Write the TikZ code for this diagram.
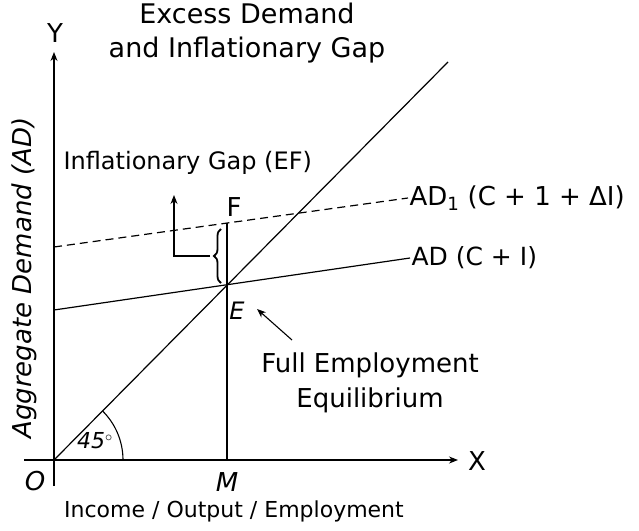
\documentclass[tikz,border=0pt]{standalone}
\usepackage{fontspec}
\setmainfont{DejaVu Sans}
\usetikzlibrary{positioning, calc, arrows.meta, decorations.pathreplacing}
\tikzset{every picture/.append style={thick}}
\tikzset{
    lbl/.style={inner sep=1pt, font=\fontsize{23}{27}\selectfont},
    letter/.style={inner sep=1pt, font=\fontsize{26}{30}\selectfont},
    curve/.style={line width=1.2pt},
    pointer/.style={-{Stealth[length=9pt, width=7pt]}},
}

\begin{document}
\begin{tikzpicture}[x=1pt, y=-1pt, line width=1.1pt]
    \useasboundingbox (0,0) rectangle (639,530);

    % =========================================================================
    % AXES
    % =========================================================================
    \coordinate (O) at (54,460);
    \coordinate (ybot) at (54,486);
    \coordinate (ytop) at (54,52);
    \coordinate (xleft) at (24,460);
    \coordinate (xright) at (458,460);

    \draw[pointer] (ybot) -- (ytop);
    \draw[pointer] (xleft) -- (xright);

    \node[letter] (Ylab) at (55,33) {Y};
    \node[letter] (Xlab) at (477,461) {X};
    \node[letter, font=\fontsize{26}{30}\selectfont\itshape] (Olab) at (35,481) {O};
    \node[letter, font=\fontsize{26}{30}\selectfont\itshape] (Mlab) at (227,482) {M};

    % =========================================================================
    % CURVES
    % =========================================================================
    \coordinate (E) at (227,285);
    \coordinate (F) at (227,223);
    \coordinate (M) at (227,460);

    % 45 degree line
    \draw[curve] (O) -- (448,62) coordinate (diag_end);

    % AD and AD1
    \draw[curve] (54,310) coordinate (ad_start) -- (410,258) coordinate (ad_end);
    \draw[curve, dash pattern=on 8pt off 5pt] (54,247) coordinate (ad1_start) -- (408,198) coordinate (ad1_end);

    % Vertical line F - E - M
    \draw[curve] (F) -- (M);

    % 45 degree arc
    \draw ($(O)+(69,0)$) arc[start angle=0, end angle=45, radius=69pt];
    \node[lbl, font=\fontsize{22}{25}\selectfont\itshape] (anglab) at (95,441) {45$^{\circ}$};

    % =========================================================================
    % LABELS
    % =========================================================================
    \node[lbl, anchor=west, font=\fontsize{26}{29}\selectfont] (ad1lab) at (ad1_end) {AD\textsubscript{1} (C + 1 + ΔI)};
    \node[lbl, anchor=west, font=\fontsize{25}{29}\selectfont] (adlab) at (ad_end) {AD (C + I)};

    \node[letter] (Flab) at (234,207) {F};
    \node[letter, font=\fontsize{24}{28}\selectfont\itshape] (Elab) at (237,311) {E};

    % Inflationary gap bracket
    \node[lbl, anchor=west, font=\fontsize{24}{28}\selectfont] (gaplab) at (62,163) {Inflationary Gap (EF)};
    \coordinate (elbow) at (174,256);
    \draw[pointer] (210,256) -- (elbow) -- (174,195);
    \draw[line width=1.8pt, decorate, decoration={brace, amplitude=7pt}] (221,283) -- (221,229);

    % Pointer to E
    \node[lbl, align=center, font=\fontsize{26}{35}\selectfont] (fulllab) at (370,383) {Full Employment\\Equilibrium};
    \draw[pointer] (292,340) -- (257,309);

    % Titles
    \node[lbl, align=center, font=\fontsize{27}{34}\selectfont] (title) at (247,33) {Excess Demand\\and Inflationary Gap};
    \node[lbl, font=\fontsize{22}{26}\selectfont] (xtitle) at (234,511) {Income / Output / Employment};
    \node[lbl, rotate=90, font=\fontsize{26}{30}\selectfont\itshape] (ytitle) at (24,278) {Aggregate Demand (AD)};

\end{tikzpicture}
\end{document}
